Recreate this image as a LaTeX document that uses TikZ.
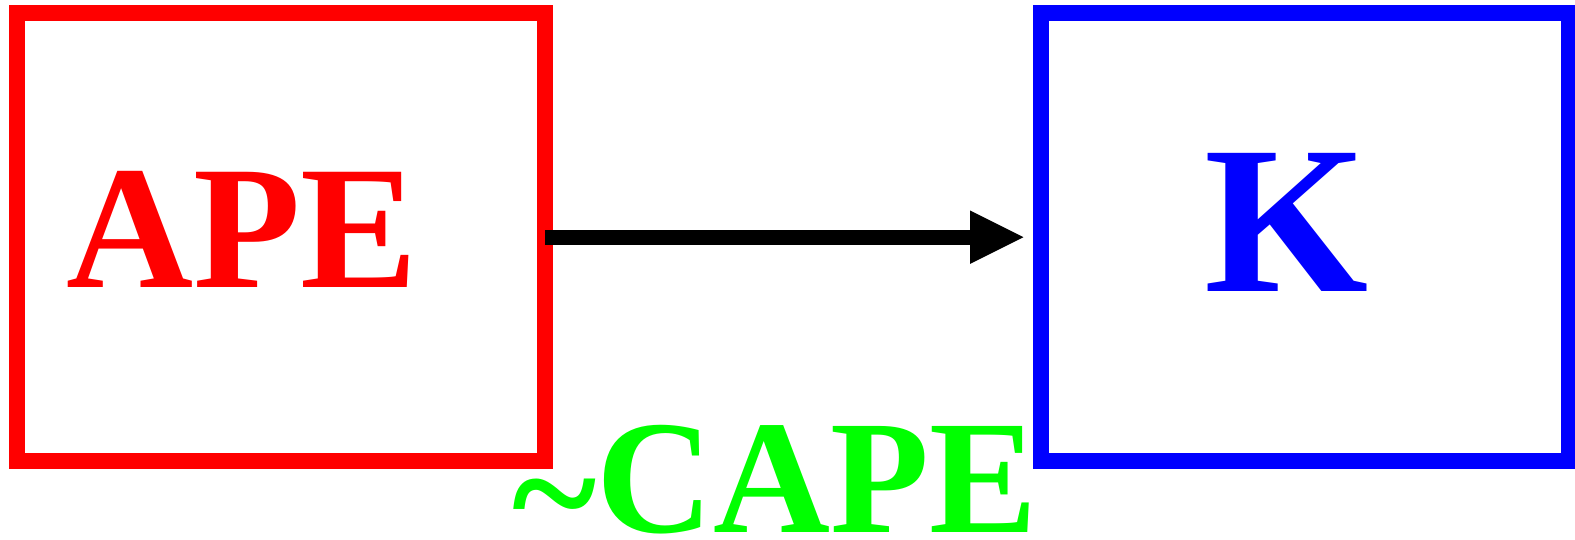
\documentclass[tikz,border=0pt]{standalone}
\usepackage{fontspec}
\setmainfont{Liberation Serif}
\usetikzlibrary{arrows.meta}
\definecolor{pRed}{RGB}{255,0,0}
\definecolor{pBlue}{RGB}{0,0,255}
\definecolor{pGreen}{RGB}{0,255,0}
\tikzset{
  boxframe/.style={draw, line width=8pt, minimum width=264pt, minimum height=224pt, outer sep=0pt, inner sep=0pt},
  lbl/.style={anchor=base, inner sep=0pt, font=\bfseries},
  conn/.style={line width=7.5pt, -{Triangle[length=27.5pt, width=24.5pt]}}
}
\begin{document}
\begin{tikzpicture}[x=0.5pt, y=-0.5pt]
\useasboundingbox (0,0) rectangle (1575,540);
\node[boxframe, draw=pRed] (ape) at (281.3,237.2) {};
\node[boxframe, draw=pBlue] (k) at (1305,237.2) {};
\node[lbl, text=pRed, font=\bfseries\fontsize{88}{90}\selectfont] (apetxt) at (242,287) {APE};
\node[lbl, text=pBlue, font=\bfseries\fontsize{105.5}{108}\selectfont] (ktxt) at (1287,291) {K};
\node[lbl, text=pGreen, font=\bfseries\fontsize{81}{84}\selectfont] (cape) at (775,532) {\raisebox{-7.5pt}{\char`\~}CAPE};
\draw[conn, shorten >=8pt] (ape.east) -- (k.west);
\end{tikzpicture}
\end{document}
